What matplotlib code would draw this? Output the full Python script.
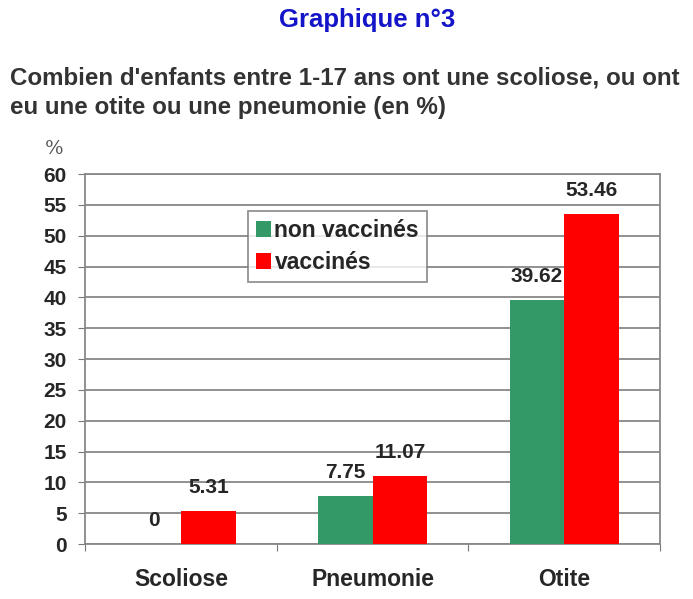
import numpy as np
import matplotlib.pyplot as plt

categories = ["Scoliose", "Pneumonie", "Otite"]
non_vacc = [0, 7.75, 39.62]
vacc = [5.31, 11.07, 53.46]
series_names = ["non vaccinés", "vaccinés"]
yticks = np.arange(0, 61, 5)

plt.rcParams['font.family'] = ['Liberation Sans', 'DejaVu Sans']
txt = "#262626"

fig = plt.figure(figsize=(6.93, 5.99), dpi=100)
ax = fig.add_axes([0.1227, 0.0918, 0.830, 0.6177])

x = np.arange(len(categories))
w = 0.286
b1 = ax.bar(x - w / 2, non_vacc, w, color="#339966", label=series_names[0], zorder=3)
b2 = ax.bar(x + w / 2, vacc, w, color="#ff0000", label=series_names[1], zorder=3)

for bars, vals in [(b1, non_vacc), (b2, vacc)]:
    for r, v in zip(bars, vals):
        lbl = "0" if v == 0 else f"{v:.2f}"
        ax.annotate(lbl, (r.get_x() + r.get_width() / 2, v), xytext=(0, 10),
                    textcoords="offset points", ha="center", va="bottom",
                    fontsize=15, fontweight="bold", color=txt)

ax.set_xlim(-0.5, 2.5)
ax.set_ylim(0, 60)
ax.set_yticks(yticks)
ax.set_yticklabels([str(t) for t in yticks], fontsize=15, fontweight="bold", color=txt)
ax.set_xticks([-0.5, 0.5, 1.5, 2.5])
ax.set_xticklabels([])
ax.set_xticks(x, minor=True)
ax.set_xticklabels(categories, minor=True, fontsize=16.5, fontweight="bold", color=txt)
ax.tick_params(axis="x", which="minor", length=0, pad=17)
ax.tick_params(axis="x", which="major", length=5, color="#777777")
ax.tick_params(axis="y", length=5, color="#777777", pad=8)
ax.yaxis.grid(True, color="#888888", linewidth=1.3, zorder=0)
for s in ax.spines.values():
    s.set_color("#888888")
    s.set_linewidth(1.3)

leg = ax.legend(loc="upper left", bbox_to_anchor=(0.2835, 0.9), borderaxespad=0,
                prop={"weight": "bold", "size": 16.5}, frameon=True, fancybox=False,
                handlelength=0.65, handleheight=0.65, handletextpad=0.15,
                borderpad=0.35, labelspacing=0.4)
leg.get_frame().set_edgecolor("#777777")
leg.get_frame().set_linewidth(1.3)
for t in leg.get_texts():
    t.set_color(txt)

fig.text(0.53, 0.967, "Graphique n°3", ha="center", va="center", fontsize=18.5,
         fontweight="bold", color="#1414c8")
fig.text(0.014, 0.845, "Combien d'enfants entre 1-17 ans ont une scoliose, ou ont\neu une otite ou une pneumonie (en %)",
         ha="left", va="center", fontsize=17.4, fontweight="bold", color="#333333",
         linespacing=1.32)
fig.text(0.078, 0.751, "%", ha="center", va="center", fontsize=14, color="#555555",
         family="DejaVu Serif")

fig.savefig("out.png", dpi=100)
